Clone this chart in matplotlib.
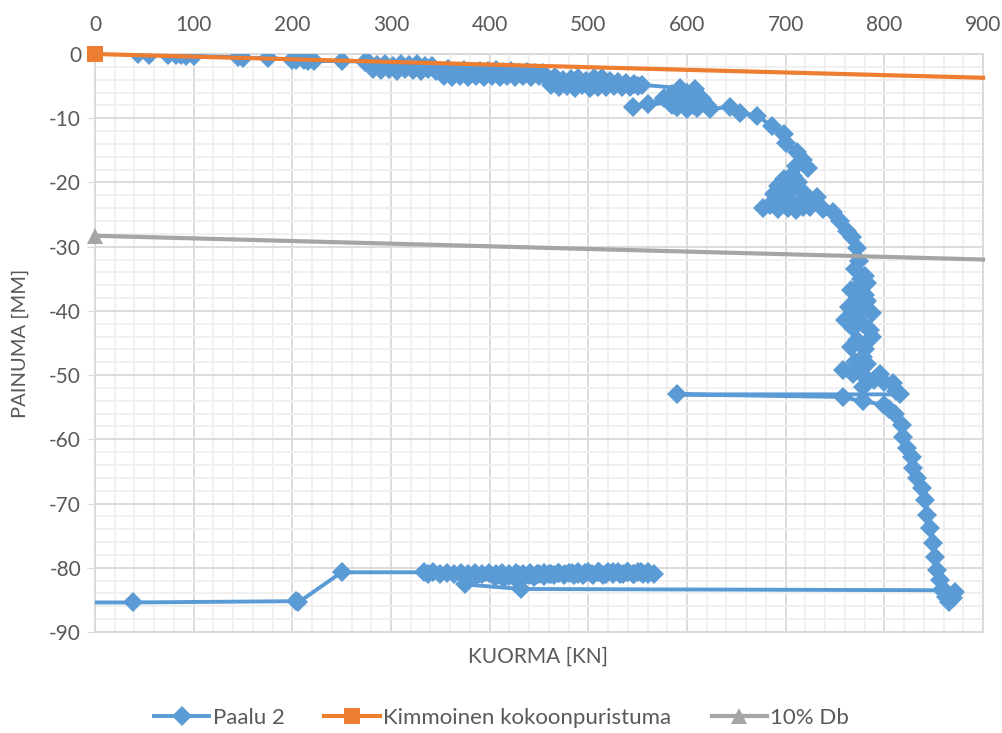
import matplotlib
matplotlib.use("Agg")
import matplotlib.pyplot as plt
from matplotlib.ticker import MultipleLocator

plt.rcParams['font.family'] = ['Lato', 'DejaVu Sans']
plt.rcParams['axes.unicode_minus'] = False

# ---- data: Paalu 2 (load kN, settlement mm), in measurement order -------
load_initial_x = [44, 55, 74, 82, 87, 92, 100, 145, 150, 175, 200, 204, 212, 216, 222, 250, 274]
load_initial_y = [0.0, -0.1, -0.1, -0.2, -0.2, -0.3, -0.3, -0.5, -0.6, -0.6, -0.9, -1.0, -0.9,
                  -1.1, -1.1, -1.1, -1.2]

band1_x = [278, 282, 286, 290, 294, 298, 302, 306, 310, 314, 318, 322, 326, 330, 334, 338, 342, 346]
band1_y = [-1.4, -2.3, -1.7, -2.5, -1.6, -2.4, -1.8, -2.6, -1.5, -2.4, -1.7, -2.5, -1.6, -2.6,
           -1.9, -2.4, -1.8, -2.7]

band2_x = [350, 354, 358, 362, 366, 370, 374, 378, 382, 386, 390, 394, 398, 402, 406, 410, 414,
           418, 422, 426, 430, 434, 438, 442, 446, 450, 454]
band2_y = [-2.6, -3.5, -2.4, -3.6, -2.8, -3.4, -2.5, -3.6, -2.9, -3.5, -2.6, -3.6, -2.7, -3.5,
           -2.5, -3.6, -2.8, -3.5, -2.7, -3.6, -2.9, -3.5, -2.8, -3.6, -3.0, -3.5, -3.0]

band3_x = [458, 462, 466, 470, 474, 478, 482, 486, 490, 494, 498, 502, 506, 510, 514, 518, 522,
           526, 530, 534, 538, 542, 546, 550, 554]
band3_y = [-3.8, -4.9, -3.6, -5.2, -4.1, -5.0, -3.9, -5.3, -3.7, -4.9, -4.2, -5.3, -3.7, -5.1,
           -3.8, -5.2, -4.2, -5.0, -4.4, -5.2, -4.5, -5.1, -4.7, -5.0, -4.8]

cluster600_x = [593, 600, 608, 604, 596, 606, 590, 600, 612, 585, 592, 603, 614,
                545, 560, 577, 585, 595, 605, 615, 620, 610, 600, 590, 623]
cluster600_y = [-5.3, -6.0, -5.5, -6.8, -7.2, -8.0, -8.3, -8.4, -8.1, -7.9, -6.5, -7.0, -6.8,
                -8.3, -7.8, -6.8, -6.3, -7.0, -7.6, -7.0, -8.0, -8.4, -8.5, -8.2, -8.6]

curve_x = [644, 654, 671, 686, 698, 700, 711, 718, 723, 710, 707]
curve_y = [-8.2, -9.2, -9.6, -11.2, -12.4, -13.8, -15.3, -16.5, -17.8, -17.5, -19.0]

cluster700_x = [705, 698, 692, 688, 696, 704, 712, 718, 722, 714, 706, 698, 690, 684, 677,
                692, 702, 710, 718, 726, 732, 725, 738, 748]
cluster700_y = [-19.0, -19.5, -20.5, -21.8, -21.0, -21.5, -20.0, -21.5, -22.8, -23.3, -23.0,
                -22.5, -22.5, -23.5, -24.0, -24.2, -24.0, -24.3, -23.8, -23.0, -22.3, -23.8,
                -24.2, -24.6]

vertical_x = [755, 762, 767, 772, 774, 770, 780, 776, 782, 775, 766, 772, 780, 782, 770, 764,
              775, 787, 770, 760, 778, 768, 785, 788, 772, 766, 780, 778, 770, 782, 774, 758,
              768, 775, 780, 796, 790, 778, 800, 809, 812, 816]
vertical_y = [-26.0, -27.5, -28.5, -30.2, -32.3, -33.5, -34.5, -35.0, -35.7, -36.0, -36.8,
              -37.0, -37.5, -38.4, -38.8, -39.4, -40.0, -40.3, -40.8, -41.4, -42.0, -42.7,
              -43.0, -44.0, -44.5, -45.6, -46.0, -47.2, -48.0, -48.3, -48.8, -49.2, -49.8,
              -49.5, -50.3, -49.8, -50.8, -51.8, -51.0, -51.3, -52.5, -53.0]

reload_x = [590, 758, 778, 800, 805, 811, 818, 819, 823, 828, 829, 833, 838, 841, 843, 846,
            849, 851, 853, 856, 859, 862, 866, 870, 872, 865, 858]
reload_y = [-53.0, -53.4, -54.1, -54.6, -55.3, -56.0, -57.8, -59.6, -61.4, -62.7, -64.5,
            -66.0, -67.6, -69.5, -71.8, -73.8, -76.1, -78.3, -80.4, -81.9, -83.3, -84.5,
            -85.3, -84.7, -83.8, -84.5, -83.5]

unload_x = [432, 375, 405, 410, 415, 420, 425, 430, 435, 440, 445, 450, 455, 460, 465, 470,
            475, 480, 485, 490, 495, 500, 505, 510, 515, 520, 525, 530, 535, 540, 545, 550,
            555, 560, 567,
            560, 553, 546, 539, 532, 525, 518, 511, 504, 497, 490, 483, 476, 469, 462, 455,
            448, 441, 434, 427, 420, 413, 406, 399, 392, 385, 378, 371, 364, 357, 350, 343,
            338, 333, 250, 206, 204, 39, -15]
unload_y = [-83.3, -82.6, -81.5, -81.2, -81.6, -81.3, -81.5, -81.2, -81.4, -81.1, -81.4,
            -81.0, -81.3, -80.9, -81.2, -80.8, -81.2, -80.8, -81.2, -80.7, -81.1, -80.7,
            -81.1, -80.6, -81.1, -80.6, -81.0, -80.6, -81.0, -80.6, -81.0, -80.7, -81.0,
            -80.7, -80.9,
            -81.0, -80.7, -81.0, -80.7, -81.0, -80.7, -81.0, -80.7, -81.0, -80.8, -81.0,
            -80.8, -81.0, -80.8, -81.0, -80.8, -81.0, -80.8, -81.0, -80.8, -81.0, -80.8,
            -80.9, -80.8, -80.9, -80.8, -80.9, -80.8, -80.9, -80.8, -80.9, -80.7, -81.0,
            -80.7, -80.7, -85.4, -85.2, -85.4, -85.4]

paalu_x = (load_initial_x + band1_x + band2_x + band3_x + cluster600_x + curve_x
           + cluster700_x + vertical_x + reload_x + unload_x)
paalu_y = (load_initial_y + band1_y + band2_y + band3_y + cluster600_y + curve_y
           + cluster700_y + vertical_y + reload_y + unload_y)

kimmo_x = [0, 900]
kimmo_y = [0.0, -3.7]

db_x = [0, 900]
db_y = [-28.3, -32.0]

x_ticks = [0, 100, 200, 300, 400, 500, 600, 700, 800, 900]
y_ticks = [0, -10, -20, -30, -40, -50, -60, -70, -80, -90]

# ---- figure -----------------------------------------------------------
fig = plt.figure(figsize=(10.03, 7.33), dpi=100)
ax = fig.add_axes([95 / 1003, 101 / 733, 888 / 1003, 578 / 733])

blue = '#5b9bd5'
orange = '#ed7d31'
grey = '#a5a5a5'

ax.plot(paalu_x, paalu_y, color=blue, lw=2.8, marker='D', ms=9.8,
        markeredgewidth=0, label='Paalu 2', zorder=3)
ax.plot(kimmo_x, kimmo_y, color=orange, lw=3.0, marker='s', ms=11,
        markevery=[0], markeredgewidth=0, label='Kimmoinen kokoonpuristuma',
        zorder=4, clip_on=False)
ax.plot(db_x, db_y, color=grey, lw=3.0, marker='^', ms=11,
        markevery=[0], markeredgewidth=0, label='10% Db', zorder=4, clip_on=False)

ax.set_xlim(0, 900)
ax.set_ylim(-90, 0)
ax.set_xticks(x_ticks)
ax.set_yticks(y_ticks)
ax.xaxis.set_minor_locator(MultipleLocator(20))
ax.yaxis.set_minor_locator(MultipleLocator(2))
ax.grid(which='major', color='#d9d9d9', lw=1.3, zorder=0)
ax.grid(which='minor', color='#efefef', lw=1.3, zorder=0)
ax.set_axisbelow(True)

ax.xaxis.tick_top()
ax.tick_params(axis='x', which='both', length=0, pad=14, labelsize=15,
               labelcolor='#595959')
ax.tick_params(axis='y', which='major', length=6, color='#d9d9d9', pad=4,
               labelsize=15, labelcolor='#595959')
ax.tick_params(axis='y', which='minor', length=0)

for s in ax.spines.values():
    s.set_color('#d9d9d9')
    s.set_linewidth(1.3)

fig.text(538 / 1003, 1 - 657 / 733, 'KUORMA [KN]', ha='center', va='center',
         fontsize=15, color='#595959')
fig.text(20 / 1003, 1 - 343 / 733, 'PAINUMA [MM]', ha='center', va='center',
         rotation=90, fontsize=14.5, color='#595959')

leg = fig.legend(loc='center', bbox_to_anchor=(0.5, 1 - 718 / 733), ncol=3,
                 frameon=False, fontsize=16, handlelength=2.5, columnspacing=1.8,
                 handletextpad=0.15)
for t in leg.get_texts():
    t.set_color('#595959')

fig.savefig('out.png', dpi=100)
